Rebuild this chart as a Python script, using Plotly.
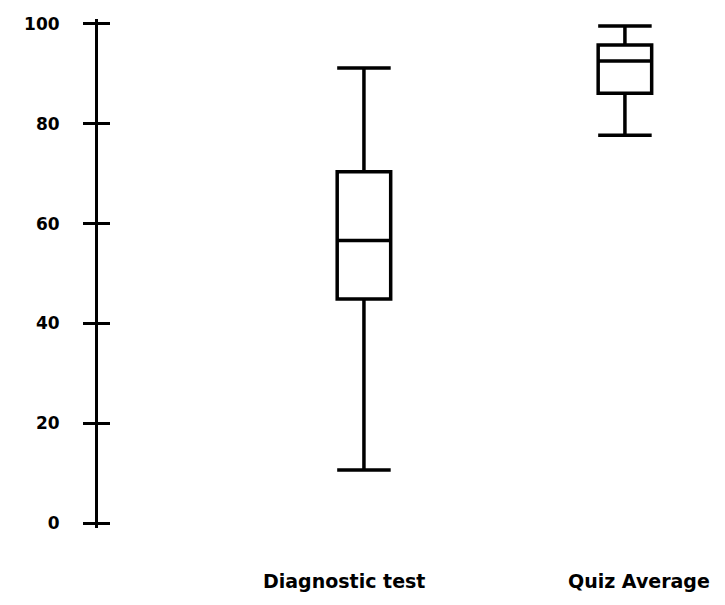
import plotly.graph_objects as go

categories = ["Diagnostic test", "Quiz Average"]
lower_whisker = [10.6, 77.7]
q1_values = [44.9, 86.1]
medians = [56.6, 92.6]
q3_values = [70.4, 95.8]
upper_whisker = [91.2, 99.6]

y_tick_vals = [0, 20, 40, 60, 80, 100]
y_tick_text = ["0", "20", "40", "60", "80", "100"]

label_shift = [-20, 14]

fig = go.Figure()
fig.add_trace(go.Box(
    x=[0, 1],
    q1=q1_values, median=medians, q3=q3_values,
    lowerfence=lower_whisker, upperfence=upper_whisker,
    width=0.205, whiskerwidth=1,
    fillcolor="white",
    line=dict(color="black", width=3.5),
    showlegend=False, hoverinfo="skip",
))
fig.add_trace(go.Scatter(x=[None], y=[None], yaxis="y2", showlegend=False))

for i, name in enumerate(categories):
    fig.add_annotation(
        x=i, xref="x", y=0, yref="paper", yanchor="top", yshift=-40,
        xshift=label_shift[i], text=name, showarrow=False,
        font=dict(family="DejaVu Sans", size=19, color="black", weight="bold"),
    )

tick_font = dict(family="DejaVu Sans", size=17, color="black", weight="bold")
fig.update_layout(
    width=725, height=605,
    margin=dict(l=90, r=17, t=6, b=85),
    paper_bgcolor="white", plot_bgcolor="white",
    xaxis=dict(range=[-1.019, 1.349], showgrid=False, zeroline=False,
               showline=False, showticklabels=False, ticks=""),
    yaxis=dict(range=[-1, 101], autorange=False, tickvals=y_tick_vals,
               ticktext=y_tick_text, ticks="outside", ticklen=12, tickwidth=3,
               tickcolor="black", showline=True, linewidth=3, linecolor="black",
               showgrid=False, zeroline=False, tickfont=tick_font,
               ticklabelstandoff=20),
    yaxis2=dict(range=[-1, 101], autorange=False, overlaying="y", side="left",
                anchor="x", tickvals=y_tick_vals, ticks="inside", ticklen=12,
                tickwidth=3, tickcolor="black", showticklabels=False,
                showline=False, showgrid=False, zeroline=False),
)

fig.write_html("out.html")
